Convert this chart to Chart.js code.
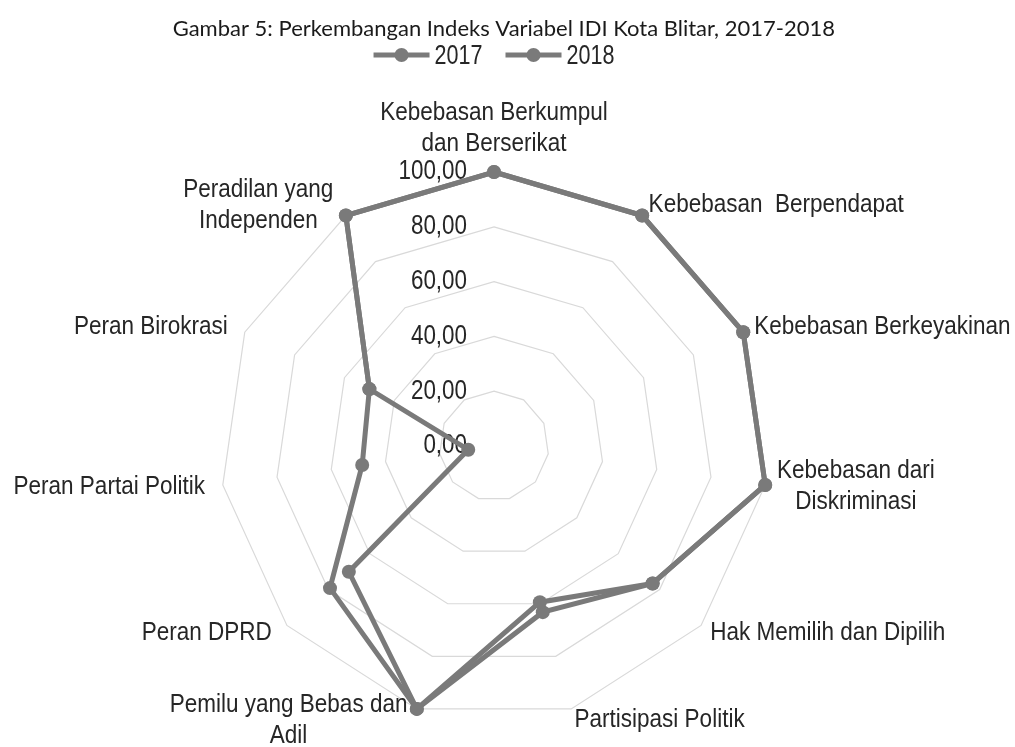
<!DOCTYPE html>
<html>
<head>
<meta charset="utf-8">
<title>Perkembangan Indeks Variabel IDI Kota Blitar</title>
<script src="https://cdn.jsdelivr.net/npm/chart.js@4.4.0/dist/chart.umd.min.js"></script>
<style>
    body { margin: 0; background: #fff; }
    canvas { display: block; }
</style>
</head>
<body>
<canvas id="idiChart" width="1015" height="747"></canvas>
<script>
let variabel = [
    ["Kebebasan Berkumpul", "dan Berserikat"],
    ["Kebebasan  Berpendapat"],
    ["Kebebasan Berkeyakinan"],
    ["Kebebasan dari", "Diskriminasi"],
    ["Hak Memilih dan Dipilih"],
    ["Partisipasi Politik"],
    ["Pemilu yang Bebas dan", "Adil"],
    ["Peran DPRD"],
    ["Peran Partai Politik"],
    ["Peran Birokrasi"],
    ["Peradilan yang", "Independen"]
];
let tahun = ["2017", "2018"];
let nilai2017 = [100, 100, 100, 100, 76.6, 59.4, 100, 70.1, 9.5, 50.0, 100];
let nilai2018 = [100, 100, 100, 100, 76.6, 63.2, 100, 79.2, 48.6, 50.0, 100];
let skalaMin = 0, skalaMax = 100, skalaStep = 20;

const lineColor = "#7a7a7a";
const textColor = "#262626";

// Liberation Sans squeezed sideways to look like Arial Narrow
function narrowText(ctx, text, x, y, align, squeeze) {
    let w = ctx.measureText(text).width * squeeze;
    let left = align === "right" ? x - w : align === "center" ? x - w / 2 : x;
    ctx.save();
    ctx.translate(left, y);
    ctx.scale(squeeze, 1);
    ctx.textAlign = "left";
    ctx.fillText(text, 0, 0);
    ctx.restore();
    return w;
}

// tick labels, category labels and the legend
const radarText = {
    id: "radarText",
    beforeDatasetsDraw(chart) {
        let ctx = chart.ctx;
        let r = chart.scales.r;
        ctx.save();
        ctx.fillStyle = textColor;
        ctx.textBaseline = "middle";

        ctx.font = '27px "Liberation Sans", Arial, sans-serif';
        r.ticks.forEach(t => {
            let p = r.getPointPositionForValue(0, t.value);
            narrowText(ctx, t.value.toFixed(2).replace(".", ","), p.x - 27, p.y, "right", 0.83);
        });

        ctx.font = '25px "Liberation Sans", Arial, sans-serif';
        let lineH = 31;
        variabel.forEach((lines, i) => {
            let p = r.getPointPosition(i, r.drawingArea + 12);
            let dx = p.x - r.xCenter;
            let dy = p.y - r.yCenter;
            let w = Math.max(...lines.map(s => ctx.measureText(s).width)) * 0.9;
            let left = p.x - w / 2;
            if (dx > 5) left = p.x;
            if (dx < -5) left = p.x - 6 - w;
            let top = p.y - lines.length * lineH / 2;
            if (Math.abs(dx) <= 5 && dy < 0) top = p.y - lines.length * lineH;
            lines.forEach((s, k) => {
                narrowText(ctx, s, left + w / 2, top + lineH * (k + 0.5), "center", 0.9);
            });
        });
        ctx.restore();
    },
    afterDraw(chart) {
        let ctx = chart.ctx;
        let r = chart.scales.r;
        let sets = chart.data.datasets;
        ctx.save();
        ctx.font = '28px "Liberation Sans", Arial, sans-serif';
        ctx.textBaseline = "middle";
        let sq = 0.77, symW = 56, gap = 5, itemGap = 23, y = 55;
        let widths = sets.map(d => ctx.measureText(d.label).width * sq);
        let total = widths.reduce((a, b) => a + b, 0) + sets.length * (symW + gap) + (sets.length - 1) * itemGap;
        let x = r.xCenter - total / 2;
        sets.forEach((d, i) => {
            ctx.strokeStyle = d.borderColor;
            ctx.fillStyle = d.borderColor;
            ctx.lineWidth = 5;
            ctx.beginPath();
            ctx.moveTo(x, y);
            ctx.lineTo(x + symW, y);
            ctx.stroke();
            ctx.beginPath();
            ctx.arc(x + symW / 2, y, 7, 0, Math.PI * 2);
            ctx.fill();
            ctx.fillStyle = textColor;
            narrowText(ctx, d.label, x + symW + gap, y + 1, "left", sq);
            x += symW + gap + widths[i] + itemGap;
        });
        ctx.restore();
    }
};

function makeDataset(label, values) {
    return {
        label: label,
        data: values,
        borderColor: lineColor,
        backgroundColor: lineColor,
        pointBackgroundColor: lineColor,
        borderWidth: 5,
        pointRadius: 7,
        pointBorderWidth: 0,
        fill: false
    };
}

const ctx = document.getElementById("idiChart").getContext("2d");
let idiChart = new Chart(ctx, {
    type: "radar",
    data: {
        labels: variabel,
        datasets: [makeDataset(tahun[0], nilai2017), makeDataset(tahun[1], nilai2018)]
    },
    options: {
        responsive: false,
        animation: false,
        layout: { padding: { top: 0, left: 153, right: 180, bottom: 27 } },
        plugins: {
            title: {
                display: true,
                align: "end",
                text: "Gambar 5: Perkembangan Indeks Variabel IDI Kota Blitar, 2017-2018",
                color: "#1a1a1a",
                font: { family: "Lato", size: 22, weight: "normal" },
                padding: { top: 16, bottom: 129.6 }
            },
            legend: { display: false },
            tooltip: { enabled: false }
        },
        scales: {
            r: {
                min: skalaMin,
                max: skalaMax,
                ticks: { stepSize: skalaStep, display: false },
                pointLabels: { display: false },
                angleLines: { display: false },
                grid: { color: "#d9d9d9", lineWidth: 1.2 }
            }
        }
    },
    plugins: [radarText]
});
</script>
</body>
</html>
